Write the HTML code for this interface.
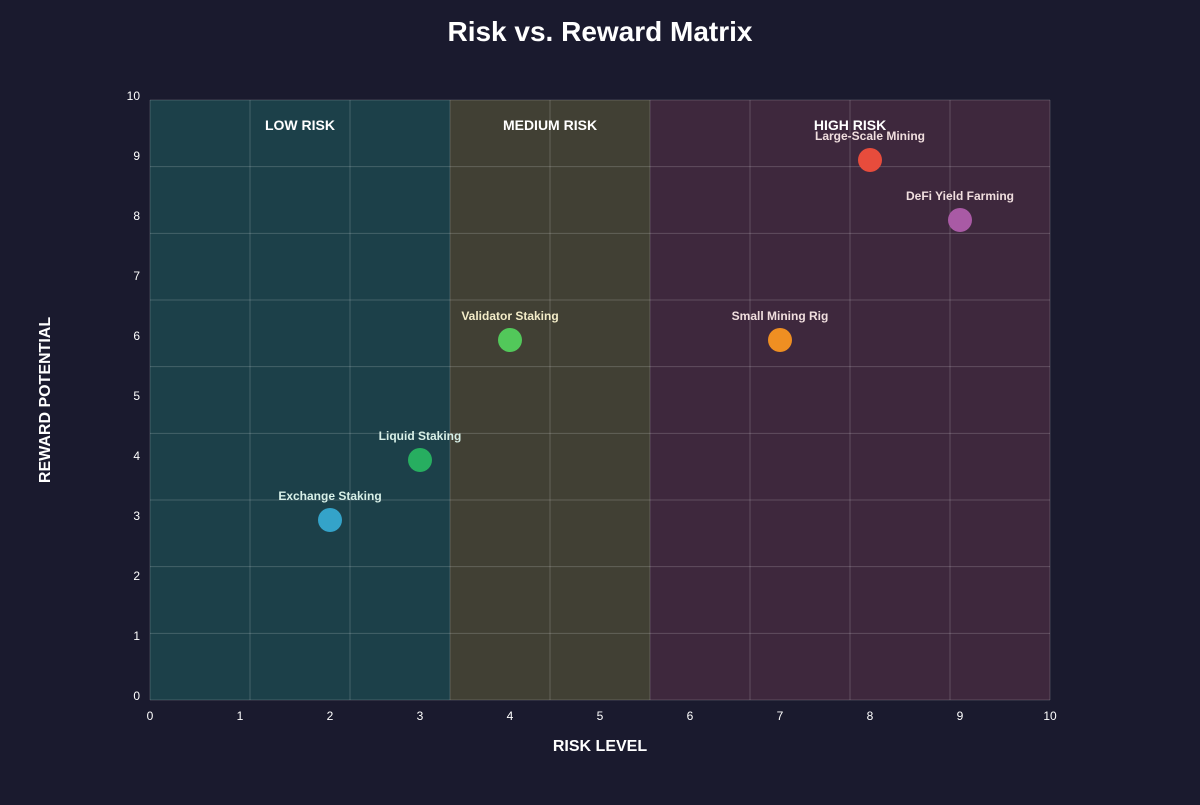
<!DOCTYPE html>
<html><head><meta charset="utf-8"><style>
body{margin:0;background:#1a1a2e;width:1200px;height:800px;overflow:hidden;font-family:"Liberation Sans",sans-serif}
</style></head><body>
<svg id="chart" width="1200" height="800" xmlns="http://www.w3.org/2000/svg">
<rect width="1200" height="800" fill="#1a1a2e"/>
<text x="600" y="41" text-anchor="middle" fill="#fff" font-size="28" font-weight="bold">Risk vs. Reward Matrix</text>
<g id="zones"></g><g id="grid"></g><g id="ticks"></g><g id="points"></g>
<text x="600" y="751" text-anchor="middle" fill="#fff" font-size="16" font-weight="bold">RISK LEVEL</text>
<text transform="translate(50,400) rotate(-90)" text-anchor="middle" fill="#fff" font-size="16" font-weight="bold">REWARD POTENTIAL</text>
</svg>
<script>
const names=["Exchange Staking","Liquid Staking","Validator Staking","Small Mining Rig","Large-Scale Mining","DeFi Yield Farming"];
const riskValues=[2,3,4,7,8,9];
const rewardValues=[3,4,6,6,9,8];
const colors=["#34a3c9","#27ae60","#52c85a","#ef8f22","#e74c3c","#a95aa5"];
const labelColors=["#d8f0e8","#d8f0e8","#f3ecc8","#f0dede","#f0dede","#f0dede"];
const zoneNames=["LOW RISK","MEDIUM RISK","HIGH RISK"];
const zoneStarts=[0,3.333,5.556];
const zoneEnds=[3.333,5.556,10];
const zoneFills=["#1c4049","#414034","#3e283d"];
const ticks=[0,1,2,3,4,5,6,7,8,9,10];
const X0=150,X1=1050,Y0=700,Y1=100;
const sx=v=>X0+(X1-X0)*v/10, sy=v=>Y0-(Y0-Y1)*v/10;
const NS="http://www.w3.org/2000/svg";
function mk(tag,attrs,parent,text){const e=document.createElementNS(NS,tag);for(const k in attrs)e.setAttribute(k,attrs[k]);if(text!==undefined)e.textContent=text;document.getElementById(parent).appendChild(e);return e;}
zoneNames.forEach((n,i)=>{
 const r=mk('rect',{x:sx(zoneStarts[i]),y:Y1,width:sx(zoneEnds[i])-sx(zoneStarts[i]),height:Y0-Y1,fill:zoneFills[i]},'zones');
 
 
 const t=mk('text',{x:(sx(zoneStarts[i])+sx(zoneEnds[i]))/2,y:130,'text-anchor':'middle',fill:'#fff','font-size':14,'font-weight':'bold'},'zones',n);
 
 
});
for(let i=0;i<=9;i++){
 const x=X0+(X1-X0)*i/9,y=Y1+(Y0-Y1)*i/9;
 const v=mk('line',{x1:x,x2:x,y1:Y1,y2:Y0,stroke:'rgba(255,255,255,0.18)','stroke-width':1},'grid');
 
 
 const h=mk('line',{x1:X0,x2:X1,y1:y,y2:y,stroke:'rgba(255,255,255,0.18)','stroke-width':1},'grid');
 
 
}
ticks.forEach(t=>{
 const a=mk('text',{x:sx(t),y:720,'text-anchor':'middle',fill:'#fff','font-size':12},'ticks',t);
 
 
 const b=mk('text',{x:140,y:sy(t)+0,'text-anchor':'end',fill:'#fff','font-size':12},'ticks',t);
 
 
});
names.forEach((n,i)=>{
 const c=mk('circle',{cx:sx(riskValues[i]),cy:sy(rewardValues[i]),r:12,fill:colors[i]},'points');
 
 
 const t=mk('text',{x:sx(riskValues[i]),y:sy(rewardValues[i])-20,'text-anchor':'middle',fill:labelColors[i],'font-size':12,'font-weight':'bold'},'points',n);
 
 
});
</script>
</body></html>
